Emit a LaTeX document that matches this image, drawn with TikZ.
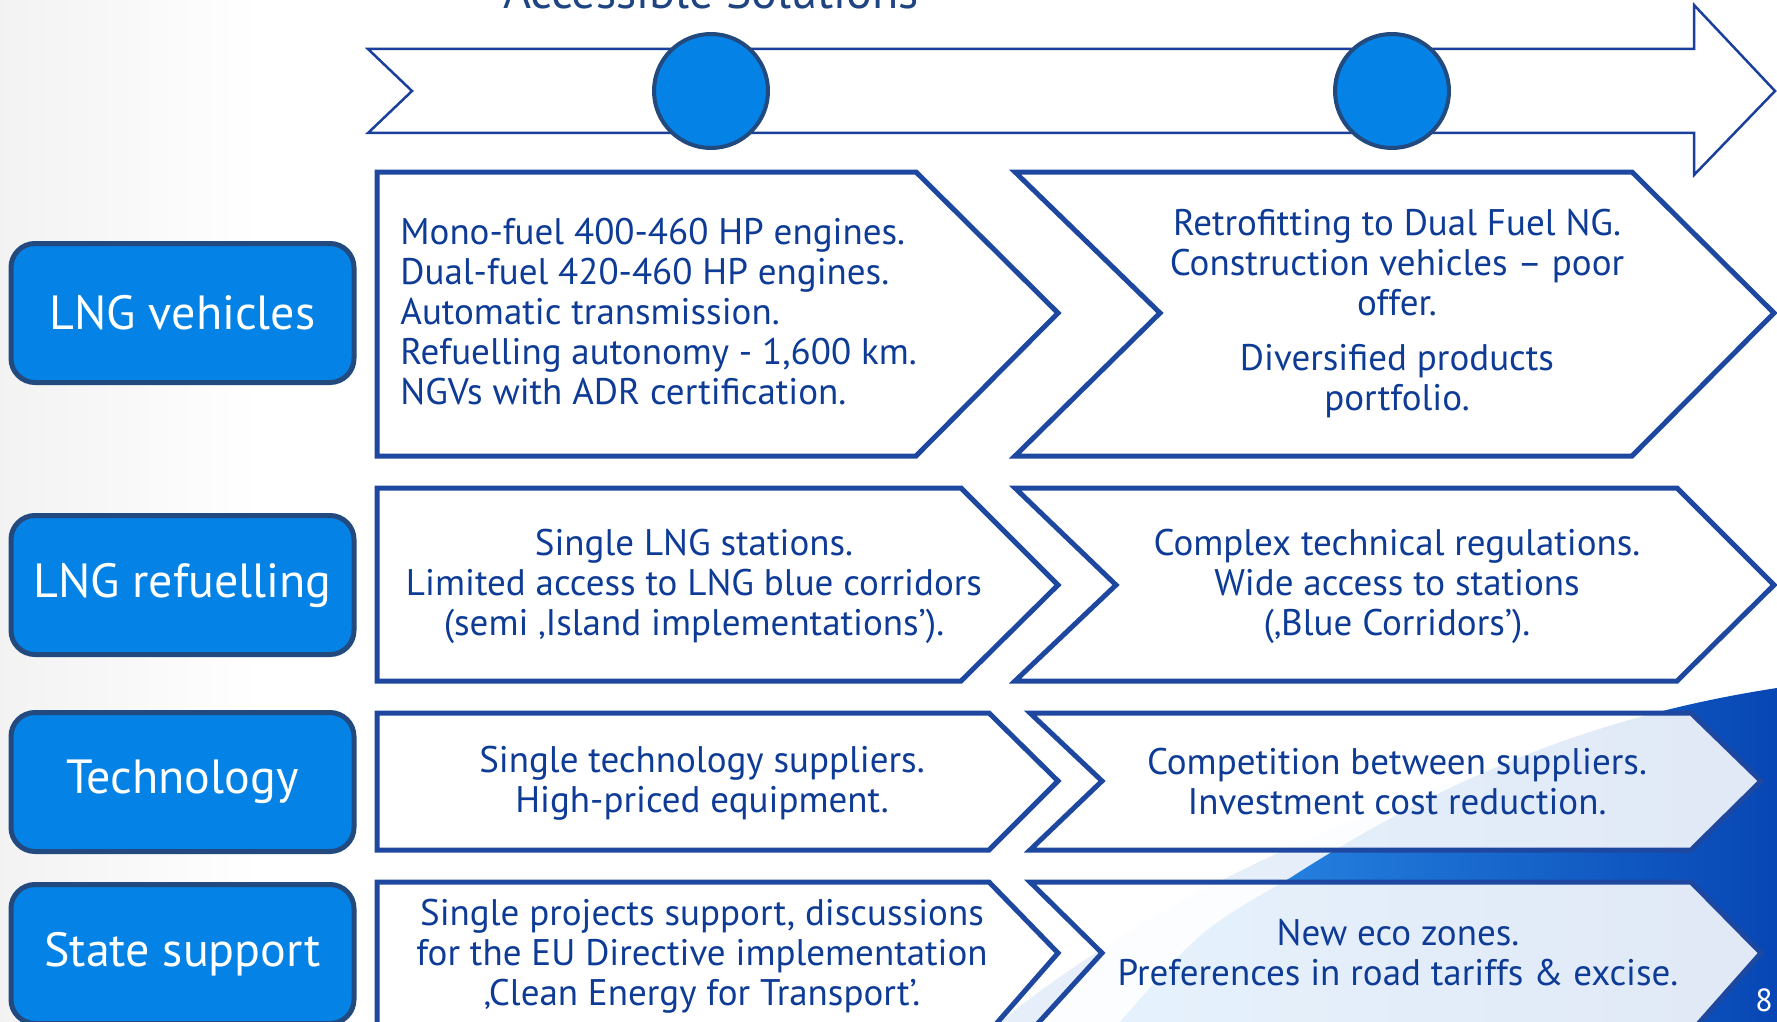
\documentclass[tikz,border=0pt]{standalone}
\usepackage{fontspec}
\setmainfont{PT Sans}
\definecolor{txtblue}{HTML}{0D3B96}
\definecolor{chevedge}{HTML}{1E48A0}
\definecolor{bannerline}{HTML}{1A3F9C}
\definecolor{lblfill}{HTML}{0482E6}
\definecolor{lbledge}{HTML}{234A7E}
\definecolor{titleblue}{HTML}{1F4482}
\definecolor{swooshlight}{HTML}{2E93EC}
\definecolor{swooshdark}{HTML}{0746B4}
\definecolor{palewave}{HTML}{E6EFF9}

\begin{document}
\begin{tikzpicture}[x=0.5pt,y=-0.5pt,
    rowlabel/.style={draw=lbledge,line width=2.5pt,fill=lblfill,rounded corners=12pt,
        minimum width=171.5pt,minimum height=69.5pt,inner sep=0pt,
        text=white,font=\fontsize{24}{28}\selectfont},
    cell/.style={text=txtblue,font=\fontsize{18.5}{20}\selectfont,align=center,inner sep=0pt},
    chev/.style={draw=chevedge,line width=2.5pt,fill=white,fill opacity=0.88},
    milestone/.style={circle,draw=lbledge,line width=2pt,fill=lblfill,minimum size=57pt,inner sep=0pt}]
    \useasboundingbox (0,0) rectangle (1777,1022);
    \clip (0,0) rectangle (1777,1022);
    \shade[left color=black!5,right color=white] (0,0) rectangle (260,1022);
    \fill[palewave] (1000,1022) .. controls (1200,860) and (1500,745) .. (1777,705) -- (1777,1022) -- cycle;
    \shade[left color=swooshlight,right color=swooshdark] (1120,1022) .. controls (1200,930) .. (1290,878)
        .. controls (1450,775) and (1600,715) .. (1777,688) -- (1777,1022) -- cycle;

    \draw[bannerline,line width=1.25pt,fill=white] (368,49) -- (1694,49) -- (1694,5) -- (1775,91)
        -- (1694,175) -- (1694,133) -- (368,133) -- (412,91) -- cycle;
    \node[milestone] (accdot) at (711,91) {};
    \node[milestone] (nextdot) at (1392,91) {};
    \node[anchor=base,text=titleblue,font=\fontsize{24}{28}\selectfont] (acctitle) at (711,9) {Accessible Solutions};

    \foreach \t/\m/\b/\e in {172/313/456/916,488/585/681/961,713/781/850/989,882/953/1032/989}
        \draw[chev] (377,\t) -- (\e,\t) -- (1058,\m) -- (\e,\b) -- (377,\b) -- cycle;
    \foreach \s/\n/\e/\p/\t/\m/\b in {1015/1160/1632/1774/172/313/456,1015/1116/1677/1774/488/585/681,
            1030/1102/1691/1761/713/781/850,1030/1102/1691/1761/882/953/1032}
        \draw[chev] (\s,\t) -- (\e,\t) -- (\p,\m) -- (\e,\b) -- (\s,\b) -- (\n,\m) -- cycle;

    \node[rowlabel] (lngveh) at (182.5,313) {LNG vehicles};
    \node[rowlabel] (lngref) at (182.5,585) {LNG refuelling};
    \node[rowlabel] (tech) at (182.5,782) {Technology};
    \node[rowlabel] (state) at (182.5,954) {State support};

    \node[cell,anchor=west,align=left] (vehnow) at (400,312) {Mono-fuel 400-460 HP engines.\\Dual-fuel 420-460 HP engines.\\Automatic transmission.\\Refuelling autonomy - 1,600 km.\\NGVs with ADR certification.};
    \node[cell] (vehnext) at (1397,314) {Retrofitting to Dual Fuel NG.\\Construction vehicles – poor\\offer.\\[7.5pt]Diversified products\\portfolio.};
    \node[cell] (refnow) at (694,586) {Single LNG stations.\\Limited access to LNG blue corridors\\(semi ‚Island implementations’).};
    \node[cell] (refnext) at (1397,586) {Complex technical regulations.\\Wide access to stations\\(‚Blue Corridors’).};
    \node[cell] (technow) at (702,783) {Single technology suppliers.\\High-priced equipment.};
    \node[cell] (technext) at (1397,782) {Competition between suppliers.\\Investment cost reduction.};
    \node[cell] (statenow) at (702,956) {Single projects support, discussions\\for the EU Directive implementation\\‚Clean Energy for Transport’.};
    \node[cell] (statenext) at (1398,953) {New eco zones.\\Preferences in road tariffs \& excise.};
    \node[text=white,font=\fontsize{16}{18}\selectfont,inner sep=0pt] (pagenum) at (1764,1000) {8};
\end{tikzpicture}
\end{document}
